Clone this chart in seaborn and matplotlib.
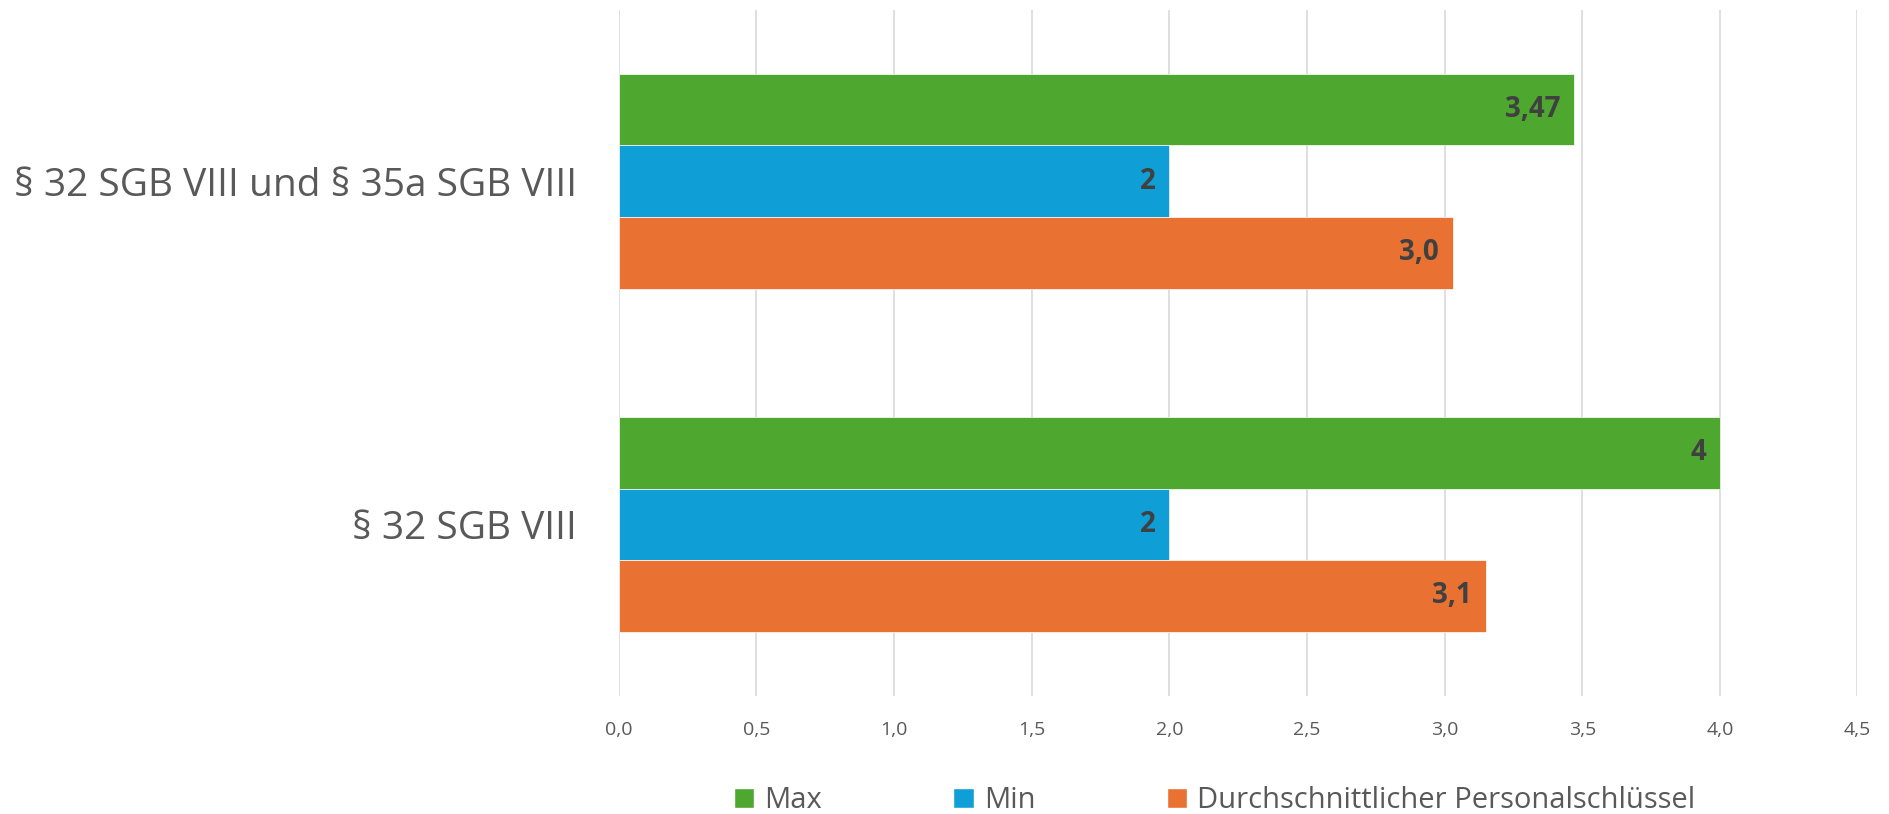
import pandas as pd
import matplotlib.pyplot as plt
import seaborn as sns
from matplotlib.patches import Patch

# Werte aus dem Diagramm
categories = ["§ 32 SGB VIII und § 35a SGB VIII", "§ 32 SGB VIII"]
series = ["Max", "Min", "Durchschnittlicher Personalschlüssel"]
max_vals = [3.47, 4.0]
min_vals = [2.0, 2.0]
avg_vals = [3.03, 3.15]
x_ticks = [0, 0.5, 1, 1.5, 2, 2.5, 3, 3.5, 4, 4.5]

colors = ["#4EA72E", "#0F9ED5", "#E97132"]

rows = []
for s, vals in zip(series, [max_vals, min_vals, avg_vals]):
    for c, v in zip(categories, vals):
        rows.append({"Kategorie": c, "Serie": s, "Wert": v})
df = pd.DataFrame(rows)

sns.set_style("white")
plt.rcParams['font.family'] = ['Open Sans', 'DejaVu Sans']

fig = plt.figure(figsize=(18.9, 8.14), dpi=100)
ax = fig.add_axes([0.3274, 0.1452, 0.6554, 0.8428])

sns.barplot(data=df, y="Kategorie", x="Wert", hue="Serie", order=categories,
            hue_order=series, palette=colors, orient="h", width=0.626,
            saturation=1, ax=ax, legend=False, linewidth=0.5, edgecolor="white")

# Datenbeschriftungen (Max/Min allgemein, Durchschnitt mit einer Nachkommastelle)
for container, s in zip(ax.containers, series):
    for bar, v in zip(container, container.datavalues):
        lab = f"{v:.1f}" if s == series[2] else f"{v:g}"
        ax.annotate(lab.replace(".", ","),
                    (bar.get_width(), bar.get_y() + bar.get_height() / 2),
                    xytext=(-10, 0), textcoords="offset points", ha="right",
                    va="center", fontsize=20, fontweight="bold", color="#404040")

ax.set_xlim(0, 4.5)
ax.set_ylim(1.5, -0.5)
ax.set_xticks(x_ticks)
ax.set_xticklabels([f"{t:.1f}".replace(".", ",") for t in x_ticks])
ax.xaxis.grid(True, color="#D9D9D9", linewidth=1.2)
ax.set_axisbelow(True)
ax.tick_params(axis="x", length=0, pad=18, labelsize=14, labelcolor="#595959")
ax.tick_params(axis="y", length=0, pad=30, labelsize=28, labelcolor="#595959")
ax.set_xlabel("")
ax.set_ylabel("")
sns.despine(ax=ax, left=True, bottom=True)

handles = [Patch(facecolor=c, label=s) for c, s in zip(colors, series)]
fig.legend(handles=handles, loc="center", bbox_to_anchor=(0.6427, 0.016), ncol=3,
           frameon=False, fontsize=21, handlelength=0.7, handleheight=0.7,
           handletextpad=0.35, columnspacing=4.5, labelcolor="#595959")

fig.savefig("out.png", dpi=100)
